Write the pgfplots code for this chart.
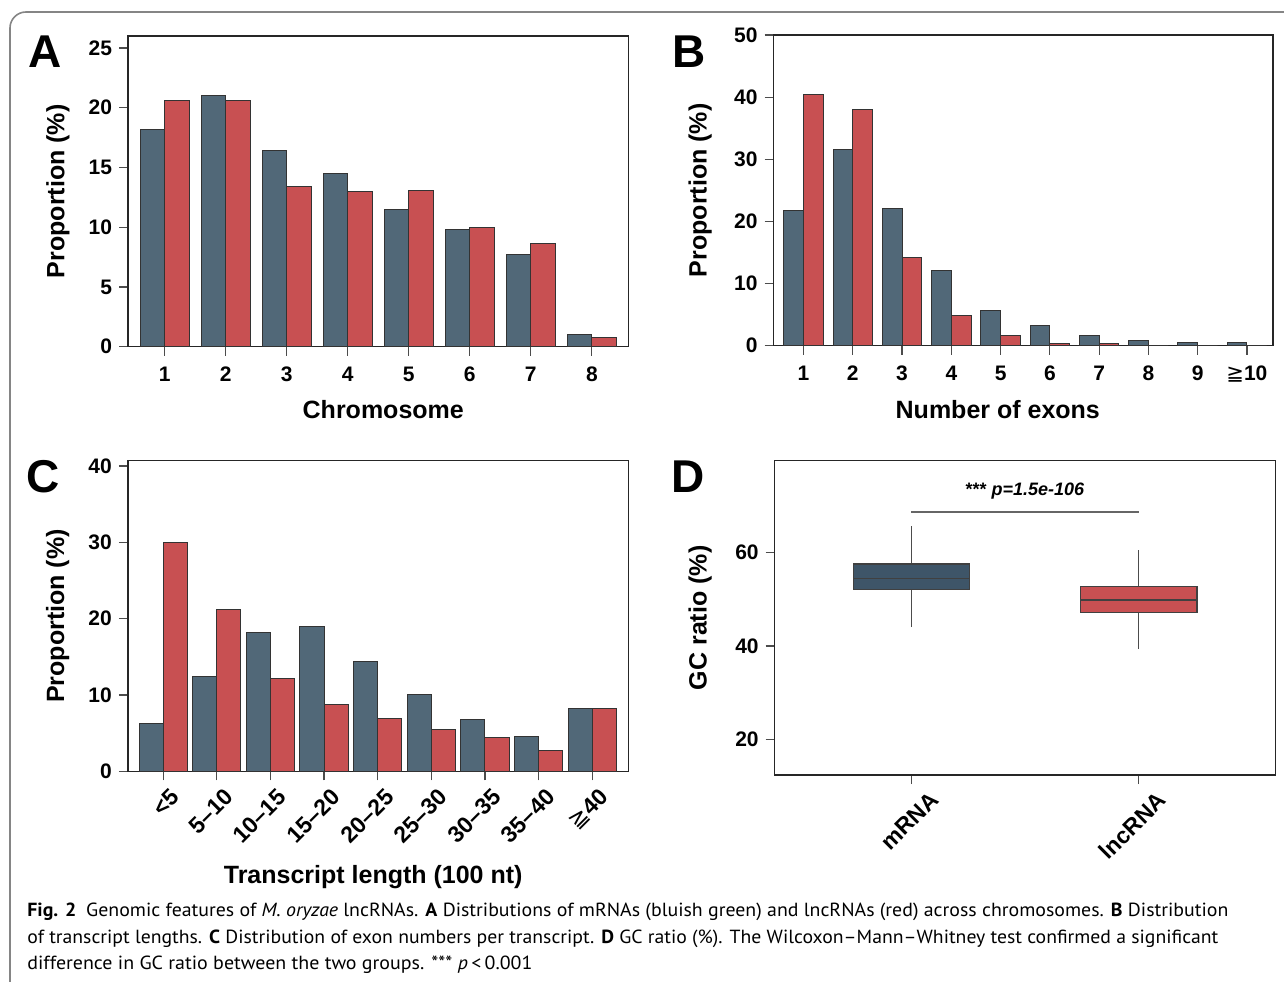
\documentclass[border=0pt]{standalone}
\usepackage{fontspec}
\setmainfont{Liberation Sans}
\newfontfamily\capfont{PT Sans}
\newfontfamily\symfont{DejaVu Sans}
\usepackage{graphicx}
\usepackage{pgfplots}
\pgfplotsset{compat=1.18}
\usepgfplotslibrary{statistics}
\definecolor{mblue}{HTML}{516878}
\definecolor{lred}{HTML}{C85052}
\definecolor{boxblue}{HTML}{3E5568}
\definecolor{framegray}{HTML}{858585}

\pgfplotsset{
 panel/.style={
   scale only axis,
   axis line style={draw=black!85, line width=0.7pt},
   tick align=outside,
   tick pos=left,
   major tick length=4.5pt,
   tick style={draw=black!70, line width=0.6pt},
   ticklabel style={font=\bfseries\fontsize{10.5}{12}\selectfont},
   /pgf/number format/assume math mode=true,
   label style={font=\bfseries\fontsize{12.5}{14}\selectfont},
   ylabel style={anchor=center},
   xlabel style={anchor=center},
 },
 bblue/.style={ybar, fill=mblue, draw=black!80, line width=0.5pt},
 bred/.style={ybar, fill=lred, draw=black!80, line width=0.5pt},
}

\begin{document}
\begin{tikzpicture}
% frame
\draw[framegray, line width=0.8pt, rounded corners=8pt] (5pt,-20pt) rectangle (700pt,484.5pt);

% Panel A
\begin{axis}[panel, at={(64pt,317.15pt)}, anchor=south west,
  width=250.25pt, height=155.35pt,
  xmin=0.4, xmax=8.6, ymin=0, ymax=26,
  xtick={1,...,8}, ytick={0,5,...,25},
  xticklabel style={yshift=-2pt},
  ylabel={Proportion (\%)}, xlabel={Chromosome},
  ylabel style={at={(axis description cs:-0.14,0.5)}},
  xlabel style={at={(axis description cs:0.51,-0.203)}}]
\addplot[bblue, bar width=0.4, bar shift=-0.2] coordinates {
 (1,18.2) (2,21.0) (3,16.4) (4,14.5) (5,11.5) (6,9.8) (7,7.7) (8,1.0)};
\addplot[bred, bar width=0.4, bar shift=0.2] coordinates {
 (1,20.6) (2,20.6) (3,13.4) (4,13.0) (5,13.1) (6,10.0) (7,8.6) (8,0.8)};
\end{axis}

% Panel B
\begin{axis}[panel, at={(386.75pt,317.65pt)}, anchor=south west,
  width=249.75pt, height=155.35pt,
  xmin=0.39, xmax=10.53, ymin=0, ymax=50,
  xtick={1,...,10}, xticklabels={1,2,3,4,5,6,7,8,9,{{\symfont\mdseries ≧}10}},
  xticklabel style={yshift=-2pt},
  ytick={0,10,...,50},
  ylabel={Proportion (\%)}, xlabel={Number of exons},
  ylabel style={at={(axis description cs:-0.147,0.5)}},
  xlabel style={at={(axis description cs:0.449,-0.207)}}]
\addplot[bblue, bar width=0.4, bar shift=-0.2] coordinates {
 (1,21.8) (2,31.5) (3,22.0) (4,12.1) (5,5.6) (6,3.2) (7,1.6) (8,0.86) (9,0.54) (10,0.48)};
\addplot[bred, bar width=0.4, bar shift=0.2] coordinates {
 (1,40.4) (2,38.0) (3,14.2) (4,4.9) (5,1.7) (6,0.3) (7,0.3) (8,0) (9,0) (10,0)};
\end{axis}

% Panel C
\begin{axis}[panel, at={(63.9pt,104.85pt)}, anchor=south west,
  width=250.4pt, height=155.3pt,
  xmin=0.34, xmax=9.68, ymin=0, ymax=40.7,
  xtick={1,...,9},
  xticklabels={<5,5–10,10–15,15–20,20–25,25–30,30–35,35–40,{{\symfont\mdseries ≧}40}},
  xticklabel style={xshift=8.5pt, yshift=-4pt, rotate=45, anchor=east, font=\bfseries\fontsize{11.5}{12}\selectfont},
  ytick={0,10,...,40},
  ylabel={Proportion (\%)}, xlabel={Transcript length (100 nt)},
  ylabel style={at={(axis description cs:-0.14,0.5)}},
  xlabel style={at={(axis description cs:0.49,-0.34)}}]
\addplot[bblue, bar width=0.45, bar shift=-0.225] coordinates {
 (1,6.3) (2,12.4) (3,18.2) (4,19.0) (5,14.4) (6,10.0) (7,6.8) (8,4.6) (9,8.25)};
\addplot[bred, bar width=0.45, bar shift=0.225] coordinates {
 (1,30.0) (2,21.2) (3,12.1) (4,8.7) (5,6.9) (6,5.5) (7,4.4) (8,2.75) (9,8.25)};
\end{axis}

% Panel D
\begin{axis}[panel, at={(387.35pt,103pt)}, anchor=south west,
  width=250.3pt, height=157.15pt,
  xmin=0.4, xmax=2.6, ymin=12.4, ymax=79.6,
  xtick={1,2}, xticklabels={mRNA,lncRNA},
  xticklabel style={xshift=14pt, yshift=-3.5pt, rotate=45, anchor=east, font=\bfseries\fontsize{11.5}{12}\selectfont},
  ytick={20,40,60},
  ylabel={GC ratio (\%)},
  ylabel style={at={(axis description cs:-0.149,0.5)}},
  boxplot/draw direction=y,
  boxplot/every whisker/.style={draw=black!70, line width=0.5pt},
  boxplot/every median/.style={draw=black!75, line width=0.9pt}]
\addplot+[mark=none, boxplot prepared={draw position=1, lower whisker=44.0, lower quartile=52.0,
   median=54.4, upper quartile=57.5, upper whisker=65.6, box extend=0.51, whisker extend=0},
   fill=boxblue, draw=black!75, line width=0.7pt] coordinates {};
\addplot+[mark=none, boxplot prepared={draw position=2, lower whisker=39.3, lower quartile=47.2,
   median=49.9, upper quartile=52.7, upper whisker=60.5, box extend=0.51, whisker extend=0},
   fill=lred, draw=black!75, line width=0.7pt] coordinates {};
\draw[black!60, line width=1pt] (axis cs:1,68.7) -- (axis cs:2,68.7);
\node[font=\bfseries\fontsize{9}{10}\selectfont] at (axis cs:1.5,73.2) {*** \textit{p=1.5e-106}};
\end{axis}

% panel letters
\node[font=\bfseries\fontsize{23}{26}\selectfont] at (22.5pt,464.5pt) {A};
\node[font=\bfseries\fontsize{23}{26}\selectfont] at (344.5pt,464.5pt) {B};
\node[font=\bfseries\fontsize{23}{26}\selectfont] at (21.5pt,252pt) {C};
\node[font=\bfseries\fontsize{23}{26}\selectfont] at (344pt,252pt) {D};

% caption
\node[anchor=base west, inner sep=0pt] at (13.5pt,32.5pt) {\resizebox{600.5pt}{\height}{\capfont\fontsize{9.5}{11}\selectfont\textbf{Fig. 2}\enspace Genomic features of \textit{M. oryzae} lncRNAs. \textbf{A} Distributions of mRNAs (bluish green) and lncRNAs (red) across chromosomes. \textbf{B} Distribution}};
\node[anchor=base west, inner sep=0pt] at (13.5pt,19pt) {\resizebox{595.5pt}{\height}{\capfont\fontsize{9.5}{11}\selectfont of transcript lengths. \textbf{C} Distribution of exon numbers per transcript. \textbf{D} GC ratio (\%). The Wilcoxon–Mann–Whitney test confirmed a significant}};
\node[anchor=base west, inner sep=0pt] at (13.5pt,6pt) {\resizebox{252.5pt}{\height}{\capfont\fontsize{9.5}{11}\selectfont difference in GC ratio between the two groups. *** \textit{p}\,<\,0.001}};

\pgfresetboundingbox
\useasboundingbox (0,0) rectangle (642pt,490.5pt);
\end{tikzpicture}
\end{document}
